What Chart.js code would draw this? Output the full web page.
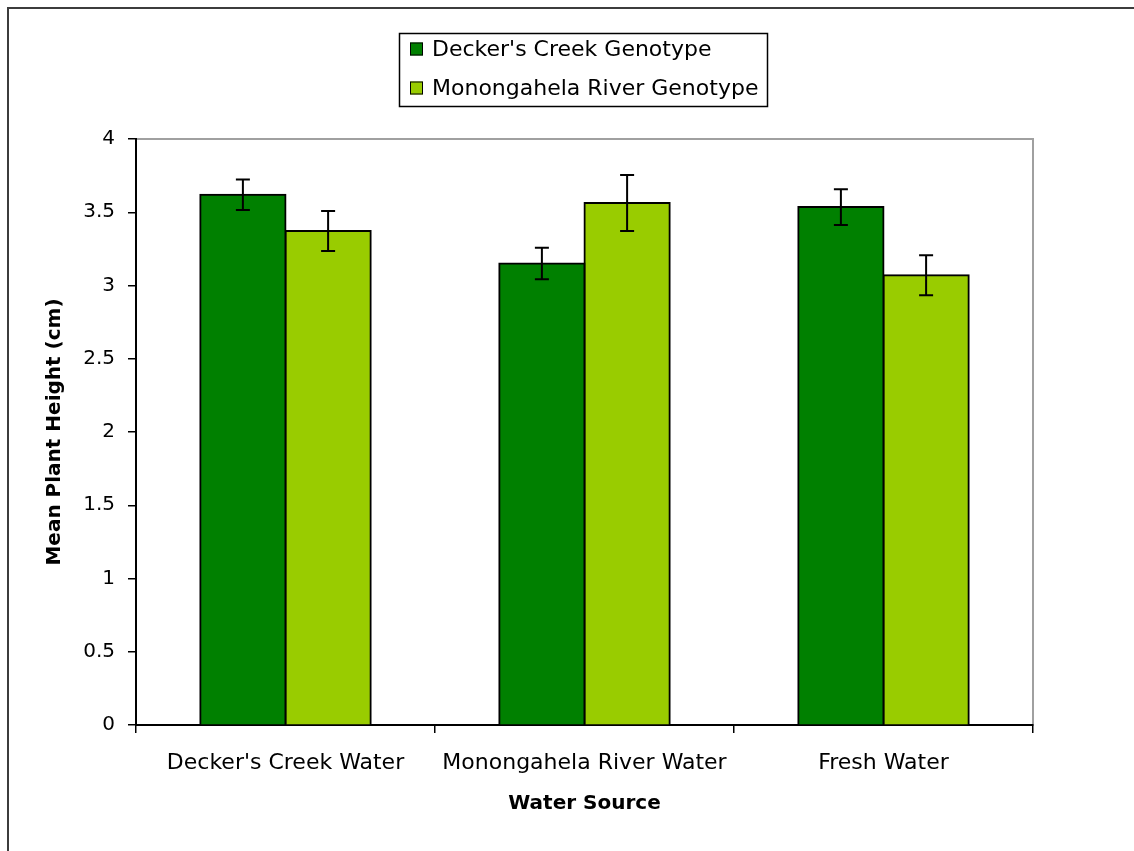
<!DOCTYPE html>
<html>
<head>
<meta charset="utf-8">
<script src="https://cdn.jsdelivr.net/npm/chart.js@4.4.0/dist/chart.umd.min.js"></script>
<style>
  html, body { margin: 0; padding: 0; background: #fff; }
  canvas { display: block; }
</style>
</head>
<body>
<canvas id="myChart" width="1134" height="851"></canvas>
<script>
var categories = ["Decker's Creek Water", 'Monongahela River Water', 'Fresh Water'];
var seriesNames = ["Decker's Creek Genotype", 'Monongahela River Genotype'];
var deckersValues = [3.62, 3.15, 3.535];
var deckersErrors = [0.104, 0.108, 0.122];
var monValues = [3.372, 3.563, 3.07];
var monErrors = [0.137, 0.191, 0.137];
var yTicks = [0, 0.5, 1, 1.5, 2, 2.5, 3, 3.5, 4];

// outer frame + grey box round the plot area
var framePlugin = {
  id: 'frame',
  beforeDraw: function (chart) {
    var c = chart.ctx, a = chart.chartArea;
    c.save();
    c.strokeStyle = '#3c3c3c';
    c.lineWidth = 2;
    c.beginPath();
    c.moveTo(8, 900);
    c.lineTo(8, 8);
    c.lineTo(1200, 8);
    c.stroke();
    c.strokeStyle = '#a0a0a0';
    c.lineWidth = 2;
    c.strokeRect(a.left, a.top, a.right - a.left, a.bottom - a.top);
    c.restore();
  }
};

// error bars, drawn from the data arrays through the y scale
var errorPlugin = {
  id: 'errorBars',
  afterDatasetsDraw: function (chart) {
    var c = chart.ctx, y = chart.scales.y;
    c.save();
    c.strokeStyle = '#000';
    c.lineWidth = 2;
    chart.data.datasets.forEach(function (ds, di) {
      var meta = chart.getDatasetMeta(di);
      meta.data.forEach(function (bar, i) {
        var v = ds.data[i], e = ds.errors[i];
        var yt = y.getPixelForValue(v + e), yb = y.getPixelForValue(v - e);
        c.beginPath();
        c.moveTo(bar.x, yt); c.lineTo(bar.x, yb);
        c.moveTo(bar.x - 7, yt); c.lineTo(bar.x + 7, yt);
        c.moveTo(bar.x - 7, yb); c.lineTo(bar.x + 7, yb);
        c.stroke();
      });
    });
    c.restore();
  }
};

// boxed legend at the top
var legendPlugin = {
  id: 'boxLegend',
  afterDraw: function (chart) {
    var c = chart.ctx;
    c.save();
    c.strokeStyle = '#000';
    c.lineWidth = 1.5;
    c.strokeRect(399.5, 33.5, 368, 73);
    c.font = '22px "DejaVu Sans"';
    c.textBaseline = 'middle';
    chart.data.datasets.forEach(function (ds, i) {
      var cy = 49 + i * 39;
      c.fillStyle = ds.backgroundColor;
      c.fillRect(410, cy - 6.5, 13, 13);
      c.lineWidth = 1;
      c.strokeRect(410.5, cy - 6, 12, 12);
      c.fillStyle = '#000';
      c.fillText(ds.label, 432, cy + 1);
    });
    c.restore();
  }
};

var ctx = document.getElementById('myChart').getContext('2d');
var myChart = new Chart(ctx, {
  type: 'bar',
  data: {
    labels: categories,
    datasets: [
      {
        label: seriesNames[0],
        data: deckersValues,
        errors: deckersErrors,
        backgroundColor: '#008000',
        borderColor: '#000',
        borderWidth: 2,
        inflateAmount: 1
      },
      {
        label: seriesNames[1],
        data: monValues,
        errors: monErrors,
        backgroundColor: '#99cc00',
        borderColor: '#000',
        borderWidth: 2,
        inflateAmount: 1
      }
    ]
  },
  plugins: [framePlugin, errorPlugin, legendPlugin],
  options: {
    responsive: false,
    animation: false,
    layout: { padding: { left: 0, right: 101, top: 139, bottom: 0 } },
    categoryPercentage: 0.57,
    barPercentage: 1.0,
    plugins: {
      legend: { display: false },
      tooltip: { enabled: false }
    },
    scales: {
      x: {
        afterFit: function (s) { s.height = 126; },
        grid: { drawOnChartArea: false, tickLength: 8, color: '#000', lineWidth: 1.5, offset: true },
        border: { color: '#000', width: 2 },
        ticks: { color: '#000', font: { family: 'DejaVu Sans', size: 22 }, padding: 17, maxRotation: 0 },
        title: {
          display: true,
          text: 'Water Source',
          color: '#000',
          font: { family: 'DejaVu Sans', size: 20, weight: 'bold' },
          padding: { top: 0, bottom: 35 }
        }
      },
      y: {
        min: 0,
        max: 4,
        afterFit: function (s) { s.width = 136; },
        afterBuildTicks: function (s) { s.ticks = yTicks.map(function (v) { return { value: v }; }); },
        grid: { drawOnChartArea: false, tickLength: 8, color: '#000', lineWidth: 1.5 },
        border: { color: '#000', width: 2 },
        ticks: {
          color: '#000',
          font: { family: 'DejaVu Sans', size: 20 },
          padding: 13,
          callback: function (v) { return String(v); }
        },
        title: {
          display: true,
          text: 'Mean Plant Height (cm)',
          color: '#000',
          font: { family: 'DejaVu Sans', size: 20, weight: 'bold' },
          padding: { top: 43, bottom: 0 }
        }
      }
    }
  }
});
</script>
</body>
</html>
